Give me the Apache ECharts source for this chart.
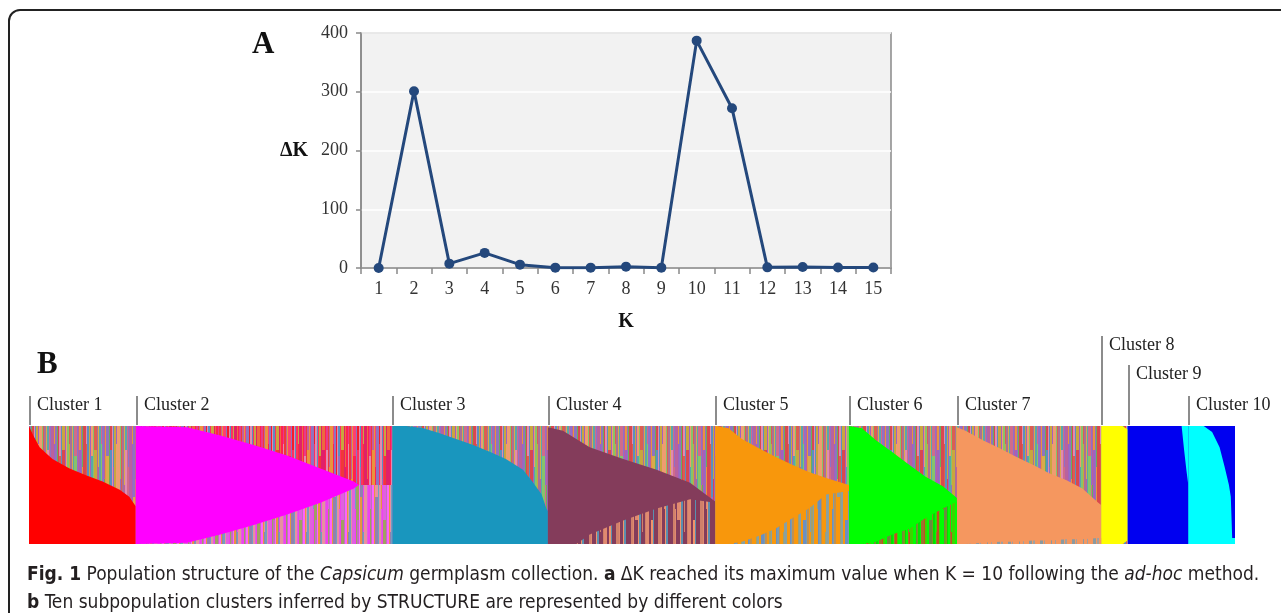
<!DOCTYPE html>
<html>
<head>
<meta charset="utf-8">
<script src="https://cdn.jsdelivr.net/npm/echarts@6.0.0/dist/echarts.min.js"></script>
<style>
html, body { margin: 0; padding: 0; background: #fff; }
#main { width: 1281px; height: 613px; }
</style>
</head>
<body>
<div id="main"></div>
<script>
// panel A
var kLabels = ['1', '2', '3', '4', '5', '6', '7', '8', '9', '10', '11', '12', '13', '14', '15'];
var deltaK = [0, 301, 7.4, 25.7, 5.7, 0.6, 0.6, 2.3, 0.6, 387, 272, 1.1, 1.7, 1.0, 1.0];

// panel B
var clusterNames = ['Cluster 1', 'Cluster 2', 'Cluster 3', 'Cluster 4', 'Cluster 5',
  'Cluster 6', 'Cluster 7', 'Cluster 8', 'Cluster 9', 'Cluster 10'];
var clusterSize = [338, 813, 493, 530, 424, 342, 457, 84, 192, 148];

// main membership band of each cluster: [position in cluster 0-1, upper edge, lower edge]
var prof1 = [[0, 1, 0], [0.04, 0.92, 0], [0.10, 0.82, 0], [0.16, 0.77, 0], [0.22, 0.72, 0], [0.38, 0.64, 0],
  [0.54, 0.58, 0], [0.69, 0.53, 0], [0.85, 0.46, 0], [0.94, 0.40, 0], [1, 0.32, 0]];
var prof2 = [[0, 1, 0], [0.2, 0.99, 0.01], [0.33, 0.92, 0.08], [0.46, 0.84, 0.16], [0.59, 0.75, 0.25],
  [0.72, 0.64, 0.35], [0.85, 0.53, 0.47], [0.87, 0.5, 0.5], [1, 0.5, 0.5]];
var prof3 = [[0, 1, 0], [0.09, 1, 0], [0.2, 0.98, 0], [0.3, 0.94, 0], [0.41, 0.89, 0], [0.52, 0.84, 0],
  [0.63, 0.78, 0], [0.73, 0.72, 0], [0.84, 0.63, 0], [0.9, 0.53, 0], [0.96, 0.42, 0], [0.99, 0.30, 0], [1, 0.28, 0]];
var prof4 = [[0, 0.99, 0], [0.09, 0.96, 0], [0.17, 0.89, 0], [0.25, 0.82, 0.08], [0.45, 0.72, 0.2],
  [0.65, 0.63, 0.3], [0.85, 0.52, 0.38], [1, 0.36, 0.35]];
var prof5 = [[0, 1, 0], [0.1, 0.98, 0], [0.2, 0.89, 0.02], [0.33, 0.81, 0.07], [0.45, 0.74, 0.13],
  [0.58, 0.67, 0.22], [0.7, 0.61, 0.3], [0.83, 0.56, 0.42], [1, 0.5, 0.45]];
var prof6 = [[0, 1, 0], [0.12, 0.98, 0], [0.25, 0.88, 0.02], [0.4, 0.78, 0.08], [0.56, 0.67, 0.13],
  [0.71, 0.57, 0.22], [0.87, 0.49, 0.3], [1, 0.39, 0.36]];
var prof7 = [[0, 0.99, 0], [0.06, 0.96, 0], [0.18, 0.88, 0.01], [0.3, 0.81, 0.02], [0.41, 0.74, 0.02],
  [0.53, 0.67, 0.03], [0.64, 0.60, 0.03], [0.76, 0.54, 0.04], [0.87, 0.47, 0.04], [0.98, 0.35, 0.05], [1, 0.33, 0.05]];
var prof8 = [[0, 1, 0], [0.8, 1, 0], [1, 0.97, 0.03]];
var prof9 = [[0, 1, 0], [0.89, 1, 0], [0.93, 0.8, 0], [0.97, 0.62, 0], [1, 0.5, 0]];
var prof10 = [[0, 1, 0], [0.33, 1, 0], [0.51, 0.95, 0], [0.67, 0.82, 0], [0.78, 0.65, 0], [0.87, 0.5, 0],
  [0.91, 0.4, 0], [0.94, 0.05, 0], [1, 0.05, 0]];
var profiles = [prof1, prof2, prof3, prof4, prof5, prof6, prof7, prof8, prof9, prof10];

var clusterColor = ['#ff0000', '#ff00ff', '#1996be', '#843c5b', '#f8970c', '#00ff00', '#f5975f', '#ffff00', '#0000f0', '#00ffff'];
var labelLevel = [0, 0, 0, 0, 0, 0, 0, 2, 1, 0];

// streaky fill for the admixed part of each column
// (the pattern is anchored at the canvas origin, so it is made as tall as the page to avoid a repeat seam)
var stripeW = [1, 2, 1, 1, 3, 1, 2, 1, 1, 2, 1, 3, 1, 1, 2];
var stripeCut = [0.5, 0.2, 0.7, 0.35, 0.8, 0.15, 0.6, 0.45, 0.9, 0.25];
var BAR_TOP = 426, BAR_H = 118;
function stripes(cols) {
  var cv = document.createElement('canvas');
  var n = cols.length * 3, w = 0, i;
  for (i = 0; i < n; i++) w += stripeW[i % stripeW.length];
  cv.width = w; cv.height = 640;
  var ctx = cv.getContext('2d');
  var x = 0;
  for (i = 0; i < n; i++) {
    var sw = stripeW[i % stripeW.length];
    var cut = BAR_TOP + Math.round(BAR_H * stripeCut[i % stripeCut.length]);
    ctx.fillStyle = cols[i % cols.length];
    ctx.fillRect(x, 0, sw, cut);
    ctx.fillStyle = cols[(i * 5 + 3) % cols.length];
    ctx.fillRect(x, cut, sw, 640 - cut);
    x += sw;
  }
  return { image: cv, repeat: 'repeat' };
}

var mixGeneral = stripes(['#b8629e', '#e9943e', '#8f73c0', '#6aae5c', '#d9484e', '#e08bb0', '#5b8fc0', '#c9a63e',
  '#a260c0', '#ee9c70', '#86c46a', '#dc5e50', '#a87098', '#d9aa4c', '#58a8aa', '#d06c8a', '#9070c8']);
var mixRed = stripes(['#ff2050', '#e63a8c', '#f03838', '#c0609e', '#e9943e', '#ff4070', '#8f73c0', '#f41c28',
  '#e08bb0', '#5b8fc0', '#ff3060', '#c9a63e', '#e0206a', '#ec6a40']);
var low2 = stripes(['#f040f0', '#c070c0', '#e9943e', '#6fa0c0', '#e060e0', '#a0a060', '#ff60ff', '#9080b0', '#e890a0']);
var low4 = stripes(['#843c5b', '#f0946a', '#843c5b', '#843c5b', '#e08a70', '#843c5b', '#5a8fb0', '#843c5b', '#d0806a']);
var low5 = stripes(['#f8970c', '#7a9cb0', '#f8970c', '#a0a070', '#f8970c', '#6c8fc0', '#c09050', '#f8970c', '#8aa0a0']);
var low6 = stripes(['#00ff00', '#7a9a20', '#00ff00', '#c05020', '#00ff00', '#6a8a40', '#00e000', '#a07030', '#40d000']);
var low7 = stripes(['#f5975f', '#f5975f', '#8a9aa0', '#f5975f', '#f5975f', '#a0a0a0', '#f5975f']);

var upperFill = [mixGeneral, mixRed, mixGeneral, mixGeneral, mixGeneral, mixGeneral, mixGeneral, mixGeneral, '#00ffff', '#0000f0'];
var lowerFill = [mixGeneral, low2, mixGeneral, low4, low5, low6, low7, mixGeneral, mixGeneral, mixGeneral];

var total = 0;
var starts = [];
clusterSize.forEach(function (s) { starts.push(total); total += s; });

function areaSeries(name, data, fill, z) {
  return {
    type: 'line', name: name, xAxisIndex: 1, yAxisIndex: 1, data: data,
    symbol: 'none', silent: true, z: z, animation: false,
    lineStyle: { width: 0, opacity: 0 },
    areaStyle: { color: fill, opacity: 1 }
  };
}

var series = [{
  type: 'line', name: 'deltaK', xAxisIndex: 0, yAxisIndex: 0, data: deltaK,
  symbol: 'circle', symbolSize: 10, z: 5,
  itemStyle: { color: '#24487c' },
  lineStyle: { color: '#24487c', width: 3 }
}];

profiles.forEach(function (p, i) {
  var s0 = starts[i], n = clusterSize[i];
  var topPts = p.map(function (d) { return [s0 + d[0] * n, d[1]]; });
  var lowPts = p.map(function (d) { return [s0 + d[0] * n, d[2]]; });
  series.push(areaSeries(clusterNames[i] + ' mix', [[s0, 1], [s0 + n, 1]], upperFill[i], 1));
  series.push(areaSeries(clusterNames[i], topPts, clusterColor[i], 2));
  series.push(areaSeries(clusterNames[i] + ' low', lowPts, lowerFill[i], 3));
});

var serif = 'Liberation Serif, Times New Roman, serif';
var capFont = 'Liberation Sans Narrow, DejaVu Sans Condensed, Arial Narrow, sans-serif';

var chart = echarts.init(document.getElementById('main'), null, { renderer: 'canvas' });

var option = {
  animation: false,
  backgroundColor: '#fff',
  title: [
    { text: 'A', left: 247, top: 24, textStyle: { fontFamily: serif, fontSize: 31, fontWeight: 'bold', color: '#111' } },
    { text: 'B', left: 32, top: 344, textStyle: { fontFamily: serif, fontSize: 31, fontWeight: 'bold', color: '#111' } },
    {
      left: 22, top: 556,
      text: '{b|Fig. 1} Population structure of the {i|Capsicum} germplasm collection. {b|a} ΔK reached its maximum value when K = 10 following the {i|ad-hoc} method.\n{b|b} Ten subpopulation clusters inferred by STRUCTURE are represented by different colors',
      textStyle: {
        fontFamily: capFont, fontSize: 19, color: '#231f20', fontWeight: 'normal', lineHeight: 28,
        rich: {
          b: { fontFamily: capFont, fontSize: 19, fontWeight: 'bold', color: '#231f20', lineHeight: 28 },
          i: { fontFamily: capFont, fontSize: 19, fontStyle: 'italic', color: '#231f20', lineHeight: 28 }
        }
      }
    }
  ],
  grid: [
    { left: 361, top: 33, width: 530, height: 235, show: true, backgroundColor: '#f2f2f2', borderColor: '#898989', borderWidth: 1.5 },
    { left: 29, top: BAR_TOP, width: 1206, height: BAR_H, show: true, backgroundColor: '#b07890', borderWidth: 0 }
  ],
  xAxis: [
    {
      type: 'category', gridIndex: 0, data: kLabels, boundaryGap: true,
      axisLine: { lineStyle: { color: '#898989', width: 1.5 } },
      axisTick: { show: true, length: 6, lineStyle: { color: '#898989', width: 1.5 } },
      axisLabel: { color: '#333', fontSize: 18, fontFamily: serif, margin: 12 },
      name: 'K', nameLocation: 'middle', nameGap: 44,
      nameTextStyle: { fontFamily: serif, fontSize: 20, fontWeight: 'bold', color: '#111' }
    },
    { type: 'value', gridIndex: 1, min: 0, max: total, show: false }
  ],
  yAxis: [
    {
      type: 'value', gridIndex: 0, min: 0, max: 400, interval: 100,
      axisLine: { show: true, lineStyle: { color: '#898989', width: 1.5 } },
      axisTick: { show: true, length: 5, lineStyle: { color: '#898989', width: 1.5 } },
      axisLabel: { color: '#333', fontSize: 18, fontFamily: serif, margin: 13 },
      splitLine: { lineStyle: { color: '#ffffff', width: 1.5 } }
    },
    { type: 'value', gridIndex: 1, min: 0, max: 1, show: false }
  ],
  series: series
};

chart.setOption(option);

// cluster labels above panel B, placed through the axis scale
var barTop = chart.convertToPixel({ yAxisIndex: 1 }, 1);
var graphics = [
  {
    type: 'rect', shape: { x: 9, y: 10, width: 1330, height: 660, r: 11 },
    style: { fill: 'none', stroke: '#222', lineWidth: 2 }, z: 100
  },
  {
    type: 'text', x: 308, y: 151,
    style: { text: 'ΔK', fontFamily: serif, fontSize: 20, fontWeight: 'bold', fill: '#111', align: 'right', verticalAlign: 'middle' }
  }
];
var levelTop = [30, 61, 90];
clusterNames.forEach(function (name, i) {
  var x = Math.round(chart.convertToPixel({ xAxisIndex: 1 }, starts[i])) + 1;
  var lineTop = barTop - levelTop[labelLevel[i]];
  graphics.push({
    type: 'line', shape: { x1: x, y1: lineTop, x2: x, y2: barTop - 1 },
    style: { stroke: '#8c8c8c', lineWidth: 2 }
  });
  graphics.push({
    type: 'text', x: x + 7, y: lineTop + 9,
    style: { text: name, fontFamily: serif, fontSize: 18, fill: '#222', verticalAlign: 'middle' }
  });
});
chart.setOption({ graphic: graphics });
</script>
</body>
</html>
